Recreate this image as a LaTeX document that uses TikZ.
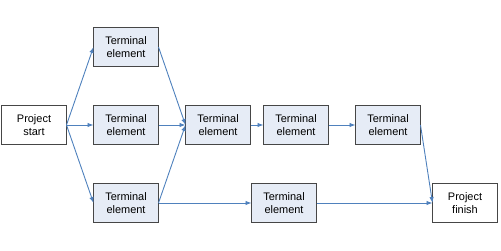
\documentclass[tikz,border=0pt]{standalone}
\usepackage{fontspec}
\setmainfont{Liberation Sans}
\usepackage{tikz}
\usetikzlibrary{arrows.meta,positioning,calc}
\definecolor{elemfill}{RGB}{230,236,246}
\definecolor{elemdraw}{RGB}{70,70,70}
\definecolor{flowblue}{RGB}{79,129,189}
\tikzset{
  net/elem/.style={draw=elemdraw, line width=1.3bp, fill=elemfill, minimum width=65bp, minimum height=39bp, inner sep=1bp, outer sep=0pt, align=center, font=\fontsize{11}{12.5}\selectfont},
  net/milestone/.style={net/elem, fill=white},
  net/flow/.style={draw=flowblue, line width=0.9bp, -{Latex[length=6bp,width=4.5bp]}}
}

\begin{document}
\begin{tikzpicture}[node distance=39bp and 27bp]
  \useasboundingbox (0,0) rectangle (501bp,-251bp);
  \node[net/milestone] (start) at (34bp,-125bp) {Project\\start};
  \node[net/elem, right=27bp of start] (midA) {Terminal\\element};
  \node[net/elem, above=39bp of midA] (topA) {Terminal\\element};
  \node[net/elem, below=39bp of midA] (botA) {Terminal\\element};
  \node[net/elem, right=27bp of midA] (merge) {Terminal\\element};
  \node[net/elem, right=13bp of merge] (midB) {Terminal\\element};
  \node[net/elem, right=27bp of midB] (midC) {Terminal\\element};
  \node[net/elem, right=93bp of botA] (botB) {Terminal\\element};
  \node[net/milestone, right=12bp of midC.east |- botA] (finish) {Project\\finish};

  \draw[net/flow] (start.east) -- (topA.west);
  \draw[net/flow] (start.east) -- (midA.west);
  \draw[net/flow] (start.east) -- (botA.west);
  \draw[net/flow] (topA.east) -- (merge.west);
  \draw[net/flow] (midA.east) -- (merge.west);
  \draw[net/flow] (botA.east) -- (merge.west);
  \draw[net/flow] (merge) -- (midB);
  \draw[net/flow] (midB) -- (midC);
  \draw[net/flow] (botA) -- (botB);
  \draw[net/flow] (midC.east) -- (finish.west);
  \draw[net/flow] (botB) -- (finish);
\end{tikzpicture}
\end{document}
